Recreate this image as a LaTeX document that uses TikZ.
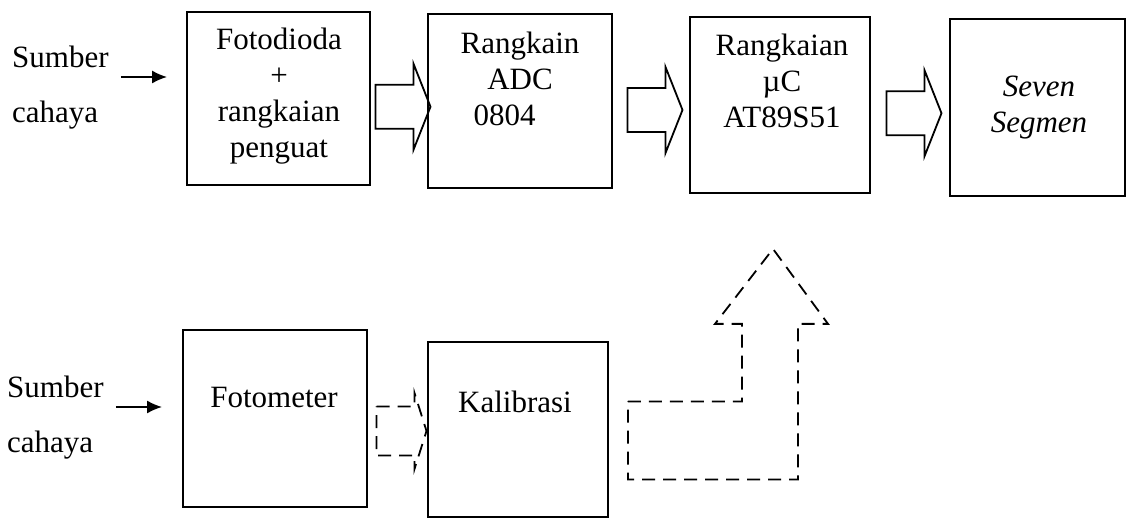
\documentclass[tikz,border=0pt]{standalone}
\usepackage{fontspec}
\setmainfont{Liberation Serif}
\usetikzlibrary{arrows.meta,positioning,calc}

% hollow block arrow between two boxes:
% [style]{from}{to}{half length}{shaft half}{head half}{head length}
\newcommand{\blockarrow}[7][]{%
  \coordinate (mid) at ($(#2.east)!0.5!(#3.west)+(4,-7)$);
  \draw[blokarr,#1] ($(mid)+(-#4,#5)$) -- ($(mid)+(#4-#7,#5)$)
    -- ($(mid)+(#4-#7,#6)$) -- ($(mid)+(#4,0)$)
    -- ($(mid)+(#4-#7,-#6)$) -- ($(mid)+(#4-#7,-#5)$)
    -- ($(mid)+(-#4,-#5)$) -- cycle;}

\begin{document}
\begin{tikzpicture}[x=1pt,y=1pt,
    blok/.style={draw, line width=1.8pt, inner sep=0pt},
    teks/.style={font=\fontsize{31}{36}\selectfont, align=center, inner sep=0pt},
    sumber/.style={font=\fontsize{31}{55}\selectfont, align=left, inner sep=0pt, anchor=west},
    srcarr/.style={-{Latex[length=15pt,width=13pt]}, line width=1.8pt},
    blokarr/.style={line width=1.8pt, line join=miter},
    putus/.style={dash pattern=on 13pt off 8pt},
  ]
  \useasboundingbox (0,0) rectangle (1127,519);

  % top row
  \node[blok, minimum width=183pt, minimum height=173pt] (b1) at (278.5,420.5) {};
  \node[blok, minimum width=184pt, minimum height=174pt] (b2) at (520,418) {};
  \node[blok, minimum width=180pt, minimum height=176pt] (b3) at (780,414) {};
  \node[blok, minimum width=175pt, minimum height=177pt] (b4) at (1037.5,411.5) {};

  \node[teks] (t1) at (279,422.5) {Fotodioda\\+\\rangkaian\\penguat};
  \node[teks] (t2) at (520,440) {Rangkain\\ADC\\0804\phantom{00}};
  \node[teks] (t3) at (782,438.5) {Rangkaian\\µC\\AT89S51};
  \node[teks, font=\fontsize{31}{36}\selectfont\itshape] (t4) at (1039,411) {Seven\\Segmen};

  \node[sumber] (src1) at (12,431.5) {Sumber\\cahaya};
  \draw[srcarr] ([xshift=12pt,yshift=10.5pt]src1.east)
    -- ($(b1.west |- src1.east)+(-19,10.5)$);

  \blockarrow{b1}{b2}{27.5}{22}{43}{17}
  \blockarrow{b2}{b3}{27.5}{22}{43}{17}
  \blockarrow{b3}{b4}{27.5}{22}{43}{17}

  % bottom row
  \node[blok, minimum width=184pt, minimum height=177pt] (b5) at (275,100.5) {};
  \node[blok, minimum width=180pt, minimum height=175pt] (b6) at (518,89.5) {};

  \node[teks] (t5) at (274,121.5) {Fotometer};
  \node[teks] (t6) at (515,117.5) {Kalibrasi};

  \node[sumber] (src2) at (7,101) {Sumber\\cahaya};
  \draw[srcarr] ([xshift=12pt,yshift=11pt]src2.east)
    -- ($(b5.west |- src2.east)+(-20,11)$);

  \blockarrow[putus]{b5}{b6}{25}{24.5}{38}{12}

  % calibration back to the controller
  \draw[blokarr, putus] let \p1=(b6.east), \p2=(b3.south) in
    (\x1+19pt,\y1+28pt) -- (\x2-38pt,\y1+28pt) -- (\x2-38pt,\y2-130pt)
    -- (\x2-65pt,\y2-130pt) -- (\x2-7pt,\y2-55pt) -- (\x2+48pt,\y2-130pt)
    -- (\x2+18pt,\y2-130pt) -- (\x2+18pt,\y1-50pt) -- (\x1+19pt,\y1-50pt) -- cycle;
\end{tikzpicture}
\end{document}
